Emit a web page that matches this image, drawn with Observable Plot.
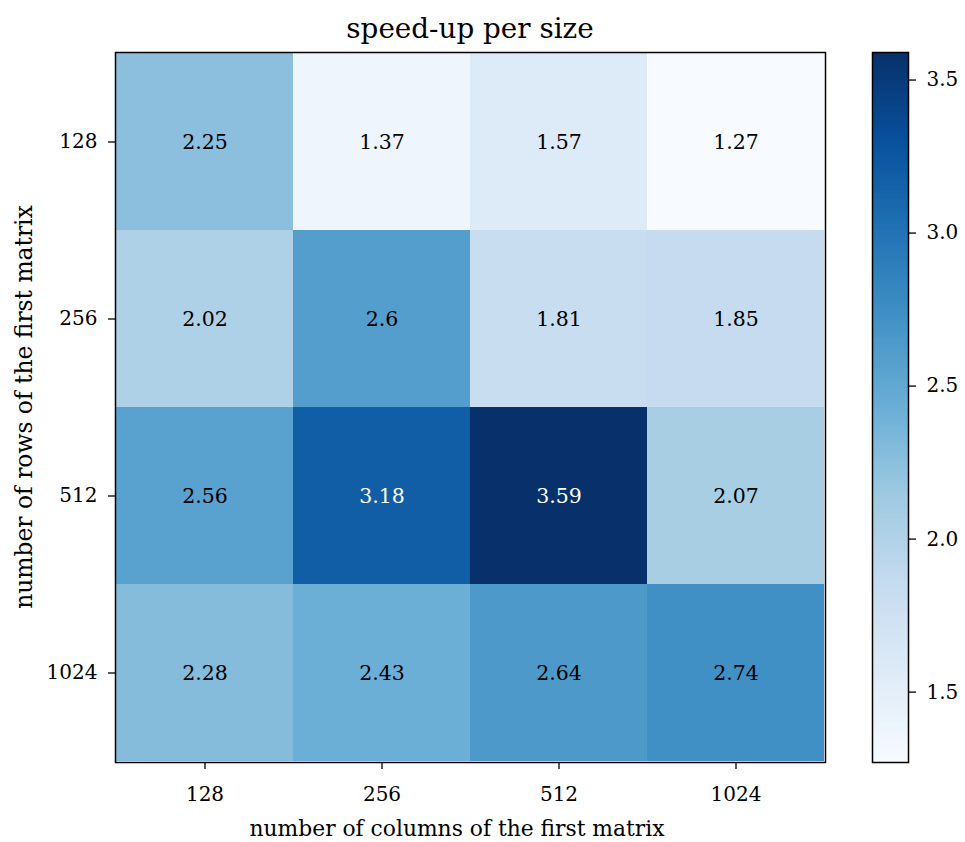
<!DOCTYPE html>
<html>
<head>
<meta charset="utf-8">
<script src="https://cdn.jsdelivr.net/npm/d3@7"></script>
<script src="https://cdn.jsdelivr.net/npm/@observablehq/plot@0.6"></script>
<style>
  body { margin: 0; background: #fff; }
  #wrap { position: relative; width: 965px; height: 842px; font-family: "DejaVu Serif", serif; color: #000; }
  #heat, #cbar { position: absolute; top: 0; }
  #heat { left: 0; }
  #cbar { left: 850px; }
  .lbl { position: absolute; white-space: nowrap; font-family: "DejaVu Serif", serif; }
</style>
</head>
<body>
<div id="wrap">
  <div id="heat"></div>
  <div id="cbar"></div>
  <div class="lbl" id="title" style="left:470px; top:28px; transform:translate(-50%,-50%); font-size:27.8px;">speed-up per size</div>
  <div class="lbl" id="xlab" style="left:457px; top:828px; transform:translate(-50%,-50%); font-size:21.8px;">number of columns of the first matrix</div>
  <div class="lbl" id="ylab" style="left:24px; top:407px; transform:translate(-50%,-50%) rotate(-90deg); font-size:23.4px;">number of rows of the first matrix</div>
</div>
<script>
const rowSizes = ["128", "256", "512", "1024"];
const colSizes = ["128", "256", "512", "1024"];
const speedup128  = [2.25, 1.37, 1.57, 1.27];
const speedup256  = [2.02, 2.6, 1.81, 1.85];
const speedup512  = [2.56, 3.18, 3.59, 2.07];
const speedup1024 = [2.28, 2.43, 2.64, 2.74];
const colorbarTicks = [1.5, 2.0, 2.5, 3.0, 3.5];

const rowsValues = [speedup128, speedup256, speedup512, speedup1024];
const table = [];
rowSizes.forEach((r, i) => colSizes.forEach((c, j) => table.push({row: r, col: c, v: rowsValues[i][j]})));

const vmin = d3.min(table, d => d.v), vmax = d3.max(table, d => d.v);
const blues = ["#f7fbff","#deebf7","#c6dbef","#9ecae1","#6baed6","#4292c6","#2171b5","#08519c","#08306b"];
const colorScale = {type: "linear", domain: [vmin, vmax], interpolate: d3.piecewise(d3.interpolateRgb, blues)};

const heat = Plot.plot({
  width: 840, height: 842,
  marginLeft: 115, marginRight: 15, marginTop: 52, marginBottom: 80,
  style: {fontFamily: "DejaVu Serif, serif", fontSize: "20px", background: "transparent", color: "#000", overflow: "visible"},
  x: {type: "band", domain: colSizes, padding: 0, label: null},
  y: {type: "band", domain: rowSizes, padding: 0, label: null},
  color: colorScale,
  marks: [
    Plot.cell(table, {x: "col", y: "row", fill: "v"}),
    Plot.text(table, {x: "col", y: "row", text: d => String(d.v), fill: d => d.v > 3 ? "white" : "black", fontSize: 20.5}),
    Plot.frame({stroke: "black", strokeWidth: 1.5}),
    Plot.axisX({tickSize: 7, tickPadding: 17, strokeWidth: 1.3, label: null, fontSize: 20}),
    Plot.axisY({tickSize: 7, tickPadding: 11, strokeWidth: 1.3, label: null, fontSize: 20})
  ]
});
document.getElementById("heat").appendChild(heat);

const nSteps = 256;
const steps = d3.range(nSteps).map(i => ({
  a: vmin + (vmax - vmin) * i / nSteps,
  b: vmin + (vmax - vmin) * (i + 1) / nSteps,
  m: vmin + (vmax - vmin) * (i + 0.5) / nSteps
}));

const cbar = Plot.plot({
  width: 115, height: 842,
  marginLeft: 22, marginRight: 57, marginTop: 52, marginBottom: 80,
  style: {fontFamily: "DejaVu Serif, serif", fontSize: "20px", background: "transparent", color: "#000", overflow: "visible"},
  x: {domain: [0, 1], axis: null},
  y: {domain: [vmin, vmax], label: null},
  color: colorScale,
  marks: [
    Plot.rect(steps, {x1: 0, x2: 1, y1: "a", y2: d => d.b + (vmax - vmin) / nSteps * 0.5, fill: "m", clip: true}),
    Plot.frame({stroke: "black", strokeWidth: 1.5}),
    Plot.axisY({anchor: "right", ticks: colorbarTicks, tickFormat: d3.format(".1f"), tickSize: 7, tickPadding: 11, strokeWidth: 1.3, label: null, fontSize: 20})
  ]
});
document.getElementById("cbar").appendChild(cbar);
</script>
</body>
</html>
